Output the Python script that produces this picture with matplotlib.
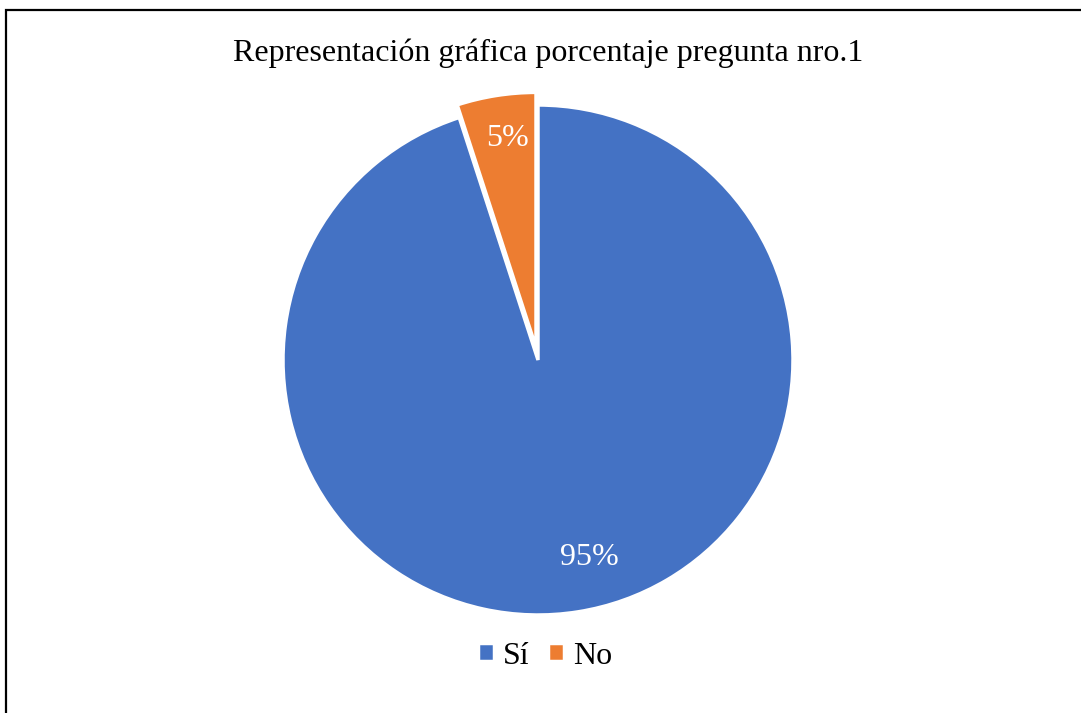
import matplotlib.pyplot as plt
from matplotlib.patches import Rectangle

labels = ['Sí', 'No']
values = [95, 5]
colors = ['#4472C4', '#ED7D31']
explode = [0, 0.05]
title = 'Representación gráfica porcentaje pregunta nro.1'

plt.rcParams['font.family'] = ['Liberation Serif', 'DejaVu Serif']

W, H = 1081, 713
fig = plt.figure(figsize=(W / 100, H / 100), dpi=100)

# square axes box centred on the pie (pixel coords from the reference)
cx, cy, r = 538, 360, 255
ax = fig.add_axes([(cx - r) / W, (H - cy - r) / H, 2 * r / W, 2 * r / H])

wedges, texts, autotexts = ax.pie(
    values, colors=colors, explode=explode, startangle=90, counterclock=False,
    autopct='%1.0f%%', pctdistance=0.8,
    wedgeprops=dict(edgecolor='white', linewidth=2.5),
    textprops=dict(color='white', fontsize=23))
for w in wedges:
    w.set_clip_on(False)
# Excel places the data labels slightly differently
autotexts[0].set_position((0.2, -0.775))
autotexts[1].set_position((-0.12, 0.87))
ax.set_xlim(-1, 1)
ax.set_ylim(-1, 1)
ax.set_aspect('auto')

fig.text(548 / W, 1 - 53 / H, title, ha='center', va='center', fontsize=23)

fig.legend(wedges, labels, loc='center', bbox_to_anchor=(545 / W, 1 - 656 / H),
           ncol=2, frameon=False, fontsize=23, handlelength=0.5, handleheight=0.5,
           handletextpad=0.3, columnspacing=0.55)

fig.patches.append(Rectangle((6 / W, -0.1), 1.2, 1 - 10.5 / H + 0.1,
                             transform=fig.transFigure, fill=False,
                             edgecolor='black', linewidth=1.6))

fig.savefig('out.png', dpi=100)
